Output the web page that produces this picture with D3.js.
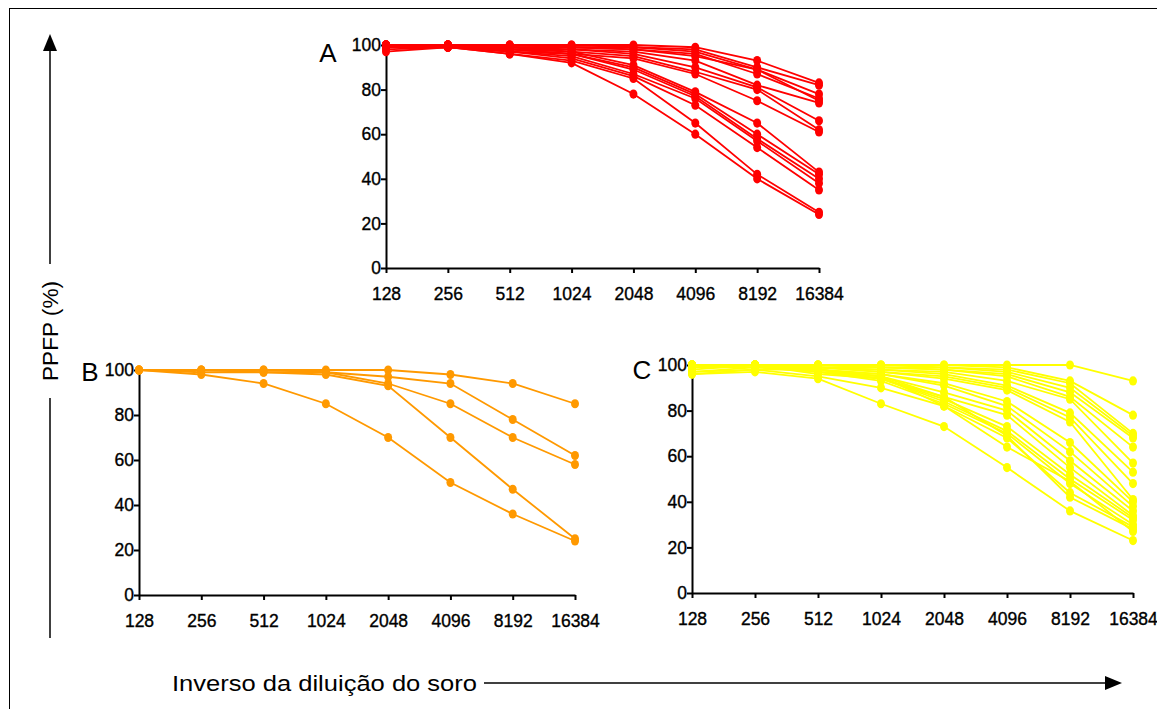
<!DOCTYPE html>
<html>
<head>
<meta charset="utf-8">
<script src="https://cdn.jsdelivr.net/npm/d3@7"></script>
<style>
  html, body { margin: 0; padding: 0; background: #fff; }
  svg { display: block; }
  .tick text { font-family: "Liberation Sans", Arial, sans-serif; font-size: 17.5px; fill: #000; stroke: #000; stroke-width: 0.35px; }
  .domain, .tick line { stroke: #000; stroke-width: 2px; }
</style>
</head>
<body>
<svg id="chart" width="1157" height="709"></svg>
<script>
// Serum dilutions (inverse) shared by all three panels
const dilutions = ["128", "256", "512", "1024", "2048", "4096", "8192", "16384"];
const yTicks = [0, 20, 40, 60, 80, 100];

// Panel A – PPFP (%) per serum
const seriesA = [
  [100, 100, 100, 100, 100, 99, 93, 83],
  [100, 100, 100, 100, 99, 98, 90, 82],
  [100, 100, 100, 99, 99, 97, 89, 78],
  [99, 100, 99, 99, 98, 96, 87, 76],
  [100, 100, 99, 99, 98, 95, 89, 75],
  [100, 100, 99, 98, 97, 93, 82, 74],
  [98, 99, 98, 98, 96, 90, 81, 66],
  [100, 100, 98, 97, 95, 88, 80, 62],
  [97, 99, 97, 96, 94, 87, 75, 61],
  [100, 100, 99, 97, 91, 79, 65, 43],
  [100, 100, 98, 96, 90, 78, 60, 42],
  [100, 99, 98, 96, 89, 77, 58, 40],
  [99, 100, 97, 95, 87, 76, 57, 38],
  [100, 100, 97, 94, 86, 73, 54, 35],
  [100, 99, 96, 93, 85, 65, 42, 25],
  [99, 99, 96, 92, 78, 60, 40, 24]
];

// Panel B – PPFP (%) per serum
const seriesB = [
  [100, 100, 100, 100, 100, 98, 94, 85],
  [100, 100, 100, 99, 97, 94, 78, 62],
  [100, 100, 99, 99, 94, 85, 70, 58],
  [100, 99, 99, 98, 93, 70, 47, 25],
  [100, 98, 94, 85, 70, 50, 36, 24]
];

// Panel C – PPFP (%) per serum
const seriesC = [
  [100, 100, 100, 100, 100, 100, 100, 93],
  [100, 100, 100, 100, 100, 99, 93, 78],
  [100, 100, 100, 100, 99, 98, 92, 70],
  [99, 100, 100, 99, 99, 97, 90, 69],
  [100, 100, 99, 99, 98, 96, 88, 68],
  [100, 100, 100, 99, 98, 95, 86, 64],
  [98, 100, 99, 98, 97, 93, 85, 57],
  [100, 100, 99, 98, 96, 91, 79, 53],
  [97, 99, 99, 97, 95, 90, 77, 48],
  [100, 100, 99, 97, 94, 89, 75, 41],
  [100, 100, 98, 96, 92, 84, 66, 40],
  [99, 100, 98, 96, 91, 82, 62, 38],
  [100, 100, 98, 95, 88, 80, 58, 36],
  [100, 99, 98, 95, 86, 78, 55, 34],
  [96, 98, 98, 94, 85, 73, 52, 33],
  [100, 100, 97, 94, 84, 71, 50, 32],
  [99, 99, 97, 93, 83, 70, 48, 30],
  [100, 100, 97, 95, 82, 68, 44, 29],
  [100, 100, 96, 94, 86, 69, 42, 28],
  [97, 98, 95, 90, 82, 64, 49, 27],
  [96, 97, 94, 83, 73, 55, 36, 23]
];

const svg = d3.select("#chart");

// Outer frame (right and bottom edges run past the canvas)
svg.append("rect")
  .attr("x", 9.5).attr("y", 8.5)
  .attr("width", 1200).attr("height", 760)
  .attr("fill", "none").attr("stroke", "#000").attr("stroke-width", 1);

const panels = [
  { label: "A", data: seriesA, color: "#ff0000", x0: 386, x1: 819, yBot: 268, yTop: 45, lx: 328, ly: 53 },
  { label: "B", data: seriesB, color: "#ff9900", x0: 139, x1: 575, yBot: 595, yTop: 370, lx: 90, ly: 372 },
  { label: "C", data: seriesC, color: "#ffff00", x0: 692, x1: 1133, yBot: 593, yTop: 365, lx: 642, ly: 370 }
];

panels.forEach(p => {
  const x = d3.scalePoint().domain(dilutions).range([p.x0, p.x1]);
  const y = d3.scaleLinear().domain([0, 100]).range([p.yBot, p.yTop]);
  const g = svg.append("g");

  g.append("g")
    .attr("transform", `translate(0,${p.yBot})`)
    .call(d3.axisBottom(x).tickSize(5).tickPadding(15).tickSizeOuter(0));
  g.append("g")
    .attr("transform", `translate(${p.x0},0)`)
    .call(d3.axisLeft(y).tickValues(yTicks).tickSize(5).tickPadding(0).tickSizeOuter(0));

  const line = d3.line().x((d, i) => x(dilutions[i])).y(d => y(d));
  const s = g.append("g");
  p.data.forEach(row => {
    s.append("path").attr("d", line(row))
      .attr("fill", "none").attr("stroke", p.color).attr("stroke-width", 1.8);
    s.selectAll(null).data(row).enter().append("ellipse")
      .attr("cx", (d, i) => x(dilutions[i])).attr("cy", d => y(d))
      .attr("rx", 4).attr("ry", 4.6).attr("fill", p.color);
  });

  svg.append("text")
    .attr("x", p.lx).attr("y", p.ly).attr("dy", "0.36em")
    .attr("text-anchor", "middle")
    .style("font-family", "Liberation Sans, Arial, sans-serif")
    .style("font-size", "26px")
    .text(p.label);
});

// Vertical title with upward arrow
const ax = 50;
svg.append("line").attr("x1", ax).attr("x2", ax).attr("y1", 48).attr("y2", 264)
  .attr("stroke", "#000").attr("stroke-width", 1.5);
svg.append("line").attr("x1", ax).attr("x2", ax).attr("y1", 398).attr("y2", 638)
  .attr("stroke", "#000").attr("stroke-width", 1.5);
svg.append("path").attr("d", `M${ax},34 L${ax - 7},51 L${ax + 7},51 Z`).attr("fill", "#000");
svg.append("text")
  .attr("transform", `translate(${ax + 8},331) rotate(-90)`)
  .attr("text-anchor", "middle")
  .attr("textLength", 100).attr("lengthAdjust", "spacingAndGlyphs")
  .style("font-family", "Liberation Sans Narrow, Liberation Sans, Arial, sans-serif")
  .style("font-size", "22px")
  .text("PPFP (%)");

// Horizontal title with rightward arrow
const ay = 683;
svg.append("text")
  .attr("x", 172).attr("y", ay + 8)
  .attr("textLength", 305).attr("lengthAdjust", "spacingAndGlyphs")
  .style("font-family", "Liberation Sans Narrow, Liberation Sans, Arial, sans-serif")
  .style("font-size", "22px")
  .text("Inverso da diluição do soro");
svg.append("line").attr("x1", 484).attr("x2", 1108).attr("y1", ay).attr("y2", ay)
  .attr("stroke", "#000").attr("stroke-width", 1.5);
svg.append("path").attr("d", `M1122,${ay} L1105,${ay - 7} L1105,${ay + 7} Z`).attr("fill", "#000");
</script>
</body>
</html>
